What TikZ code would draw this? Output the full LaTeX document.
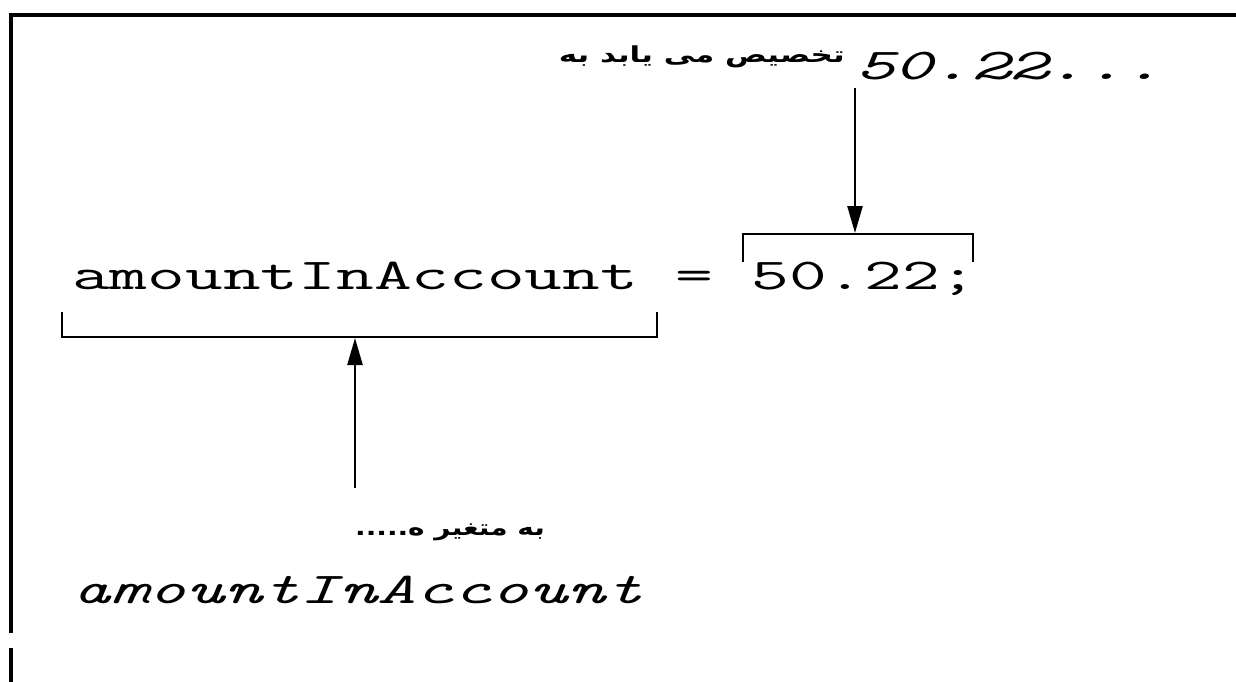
\documentclass[tikz,border=0pt]{standalone}
\usepackage{fontspec}
\usetikzlibrary{arrows.meta}
\newfontfamily\arabicfont[Script=Arabic]{DejaVu Sans}
\TeXXeTstate=1
\newcommand{\stretchx}[1]{\scalebox{1.70}[1]{#1}}
\begin{document}
\begin{tikzpicture}[x=1pt,y=-1pt,
  code/.style={font=\ttfamily\fontsize{44}{50}\selectfont, inner sep=0pt, anchor=base west},
  icode/.style={font=\ttfamily\itshape\fontsize{44}{50}\selectfont, inner sep=0pt, anchor=base west},
  ar/.style={font=\arabicfont\bfseries\fontsize{22}{26}\selectfont, inner sep=0pt},
  frame/.style={line width=4pt},
  bracket/.style={line width=2.2pt},
  arr/.style={line width=2.5pt,-{Triangle[length=27pt,width=15pt]}}]
\useasboundingbox (0,0) rectangle (1236,681);
% frame
\draw[frame] (11,633) -- (11,15) -- (1240,15);
\draw[frame] (11,648) -- (11,690);
% top label and value
\node[ar, anchor=east] (lab1) at (845,57) {\scalebox{1.41}[1]{\beginR تخصیص می یابد به\endR}};
\node[icode] (val) at (856,79) {\scalebox{1.66}[1]{50.22...}};
% statement
\node[code] (stmt) at (72,289) {\scalebox{1.665}[1]{amountInAccount = 50.22;}};
% bracket over value
\draw[bracket] (743,262) -- (743,234) -- (973,234) -- (973,262);
\coordinate (b1) at (855,233);
\coordinate (a1) at (855,88);
\draw[arr] (a1) -- (b1);
% bracket under variable
\draw[bracket] (62,312) -- (62,337) -- (657,337) -- (657,312);
\coordinate (b2) at (355,338);
\coordinate (a2) at (355,488);
\draw[arr] (a2) -- (b2);
% bottom label and variable
\node[ar] (lab2) at (450,532) {\scalebox{1.27}[1]{\beginR به متغیر ه.....\endR}};
\node[icode] (var) at (72,603) {\scalebox{1.65}[1]{amountInAccount}};
\end{tikzpicture}
\end{document}
